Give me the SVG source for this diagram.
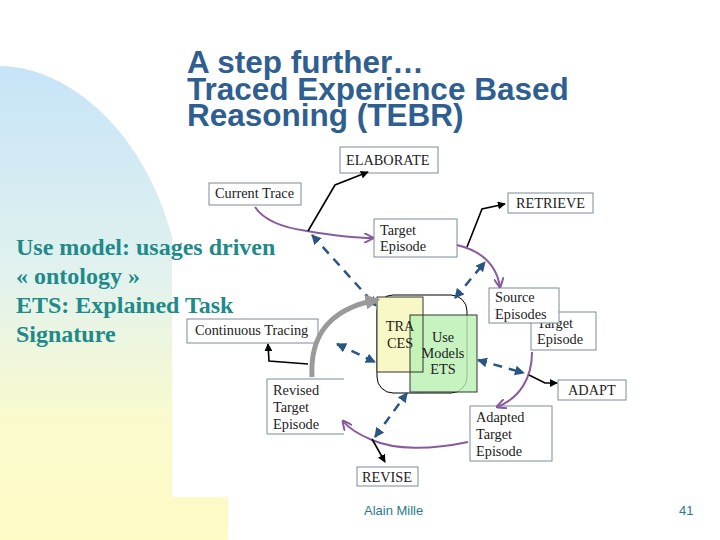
<svg xmlns="http://www.w3.org/2000/svg" width="720" height="540" viewBox="0 0 720 540">
<defs>
<linearGradient id="bg" x1="0" y1="0" x2="0" y2="1">
<stop offset="0" stop-color="#c6e4f8"/>
<stop offset="0.45" stop-color="#e2f2ee"/>
<stop offset="0.75" stop-color="#fafacc"/>
<stop offset="1" stop-color="#fdfbc6"/>
</linearGradient>
<marker id="ab" viewBox="0 0 10 10" refX="9" refY="5" markerWidth="5" markerHeight="5" orient="auto-start-reverse"><path d="M0,0 L10,5 L0,10 z" fill="#000"/></marker>
<marker id="ap" viewBox="0 0 10 10" refX="9" refY="5" markerWidth="5" markerHeight="5" orient="auto-start-reverse"><path d="M0,0 L10,5 L0,10" fill="none" stroke="#8a5aa0" stroke-width="2"/></marker>
<marker id="ad" viewBox="0 0 10 10" refX="9" refY="5" markerWidth="4" markerHeight="4" orient="auto-start-reverse"><path d="M0,0 L10,5 L0,10 z" fill="#2a5585"/></marker>
<marker id="ag" viewBox="0 0 10 10" refX="7" refY="5" markerWidth="3" markerHeight="3" orient="auto-start-reverse"><path d="M0,0 L10,5 L0,10 z" fill="#9a9a9a"/></marker>
</defs>
<style>
.title{font-family:"Liberation Sans",Arial,sans-serif;font-weight:bold;font-size:31.5px;fill:#2f5f91}
.side{font-family:"Liberation Serif","Times New Roman",serif;font-weight:bold;font-size:24px;fill:#1e8a8a}
.box{fill:#fff;stroke:#7a8a9a;stroke-width:1}
.lbl{font-family:"Liberation Serif","Times New Roman",serif;font-size:14.3px;fill:#222}
.foot{font-family:"Liberation Sans",Arial,sans-serif;font-size:13px;fill:#2a7a8a}
.blk{fill:none;stroke:#000;stroke-width:1.6;marker-end:url(#ab)}
.pur{fill:none;stroke:#8a5aa0;stroke-width:2;marker-end:url(#ap)}
.dsh{fill:none;stroke:#2a5585;stroke-width:2.5;stroke-dasharray:9,7;marker-start:url(#ad);marker-end:url(#ad)}
</style>
<rect width="720" height="540" fill="#fff"/>
<path d="M0,66 C60,66 140,120 172,236 L172,497 L228,497 L228,540 L0,540 Z" fill="url(#bg)"/>
<text class="title" x="187" y="73">A step further…</text>
<text class="title" x="187" y="99.5">Traced Experience Based</text>
<text class="title" x="187" y="126">Reasoning (TEBR)</text>
<text class="side" x="16" y="255">Use model: usages driven</text>
<text class="side" x="16" y="284">« ontology »</text>
<text class="side" x="16" y="313">ETS: Explained Task</text>
<text class="side" x="16" y="342">Signature</text>
<g id="center">
<rect x="377" y="295" width="90" height="98" rx="16" fill="#fff" stroke="#000" stroke-width="1"/>
<rect x="377" y="297" width="46" height="75" fill="#f8f8c6"/>
<rect x="410" y="315" width="67" height="77" fill="#b8f0b0" fill-opacity="0.8" stroke="#333" stroke-width="1"/>
<rect x="377" y="297" width="46" height="75" fill="none" stroke="#333" stroke-width="1"/>
<text class="lbl" x="400" y="331" text-anchor="middle" font-size="15">TRA</text>
<text class="lbl" x="400" y="348" text-anchor="middle" font-size="15">CES</text>
<text class="lbl" x="443" y="342" text-anchor="middle">Use</text>
<text class="lbl" x="443" y="358" text-anchor="middle">Models</text>
<text class="lbl" x="443" y="374" text-anchor="middle">ETS</text>
</g>
<g id="elaborate"><rect class="box" x="340" y="147" width="98" height="26"/><text class="lbl" x="346" y="165">ELABORATE</text></g>
<g id="current-trace"><rect class="box" x="209" y="183" width="92" height="22"/><text class="lbl" x="215" y="198">Current Trace</text></g>
<g id="target-episode-1"><rect class="box" x="374" y="219" width="83" height="38"/><text class="lbl" x="380" y="235">Target</text><text class="lbl" x="380" y="251">Episode</text></g>
<g id="retrieve"><rect class="box" x="508" y="193" width="85" height="20"/><text class="lbl" x="516" y="208">RETRIEVE</text></g>
<g id="target-episode-2"><rect class="box" x="531" y="312" width="65" height="38"/><text class="lbl" x="537" y="328">Target</text><text class="lbl" x="537" y="344">Episode</text></g>
<g id="source-episodes"><rect class="box" x="489" y="288" width="70" height="35"/><text class="lbl" x="495" y="302">Source</text><text class="lbl" x="495" y="319">Episodes</text></g>
<g id="adapt"><rect class="box" x="558" y="380" width="68" height="20"/><text class="lbl" x="568" y="395">ADAPT</text></g>
<g id="adapted"><rect class="box" x="470" y="406" width="82" height="55"/><text class="lbl" x="476" y="422">Adapted</text><text class="lbl" x="476" y="439">Target</text><text class="lbl" x="476" y="456">Episode</text></g>
<g id="revise"><rect class="box" x="357" y="467" width="61" height="19"/><text class="lbl" x="362" y="482">REVISE</text></g>
<g id="revised"><path d="M344,379 H267 V434 H344" fill="#fff" stroke="#7a8a9a" stroke-width="1"/><text class="lbl" x="273" y="395">Revised</text><text class="lbl" x="273" y="412">Target</text><text class="lbl" x="273" y="429">Episode</text></g>
<g id="continuous"><rect class="box" x="187" y="319" width="131" height="24"/><text class="lbl" x="195" y="335">Continuous Tracing</text></g>
<g id="connectors">
<path class="pur" d="M255,207 C265,222 285,228 307,231 C330,235 350,238 373,238"/>
<path class="blk" d="M308,231 L335,185 L368,172"/>
<path class="dsh" d="M312,235 L376,306"/>
<path class="pur" d="M457,245 C478,250 496,262 500,287"/>
<path class="blk" d="M467,247 L482,209 L505,204"/>
<path class="dsh" d="M455,298 L485,262"/>
<path class="pur" d="M532,352 C532,378 520,398 497,407"/>
<path class="blk" d="M529,375 L545,383 L557,383"/>
<path class="dsh" d="M478,360 L524,373"/>
<path class="pur" d="M468,442 C430,450 395,450 372,440 C360,435 350,430 343,421"/>
<path class="blk" d="M372,439 L385,462"/>
<path class="dsh" d="M375,437 L407,393"/>
<path class="dsh" d="M337,344 L375,362"/>
<path d="M312,377 C310,340 325,310 376,300" fill="none" stroke="#9a9a9a" stroke-width="5" marker-end="url(#ag)"/>
<path class="blk" d="M308,364 L269,361 L268,344"/>
</g>
<text class="foot" x="364" y="515">Alain Mille</text>
<text class="foot" x="679" y="515">41</text>
</svg>
